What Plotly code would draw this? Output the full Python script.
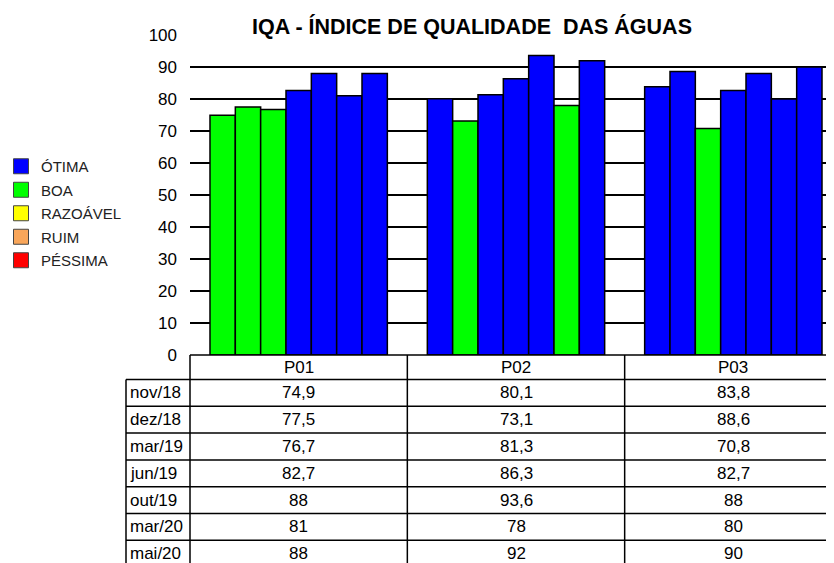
import plotly.graph_objects as go

# ---------------- data ----------------
points = ["P01", "P02", "P03"]
dates = ["nov/18", "dez/18", "mar/19", "jun/19", "out/19", "mar/20", "mai/20"]
values = {
    "nov/18": [74.9, 80.1, 83.8],
    "dez/18": [77.5, 73.1, 88.6],
    "mar/19": [76.7, 81.3, 70.8],
    "jun/19": [82.7, 86.3, 82.7],
    "out/19": [88, 93.6, 88],
    "mar/20": [81, 78, 80],
    "mai/20": [88, 92, 90],
}
classes = ["ÓTIMA", "BOA", "RAZOÁVEL", "RUIM", "PÉSSIMA"]
class_colors = ["#0000FF", "#00FF00", "#FFFF00", "#F9A65A", "#FF0000"]
class_lower = [79, 51, 36, 19, 0]  # lower limit of each class
y_ticks = [0, 10, 20, 30, 40, 50, 60, 70, 80, 90, 100]

TITLE = "IQA - ÍNDICE DE QUALIDADE  DAS ÁGUAS"
FONT = "Liberation Sans, Arial, sans-serif"


def color_for(v):
    for lo, c in zip(class_lower, class_colors):
        if v > lo:
            return c
    return class_colors[-1]


def fmt(v):
    if float(v).is_integer():
        return str(int(v))
    return str(v).replace(".", ",")


fig = go.Figure()

for d in dates:
    fig.add_trace(go.Bar(
        x=points, y=values[d], name=d, showlegend=False,
        marker=dict(color=[color_for(v) for v in values[d]],
                    line=dict(color="black", width=1.5)),
        hoverinfo="x+y+name",
    ))

# legend entries (no data)
for name, c in zip(classes, class_colors):
    fig.add_trace(go.Scatter(
        x=[None], y=[None], name=name, mode="markers", showlegend=True,
        legendgroup=name,
        marker=dict(symbol="square", size=15, color=c,
                    line=dict(color="#444", width=1)),
    ))

# ---------------- layout ----------------
W, H = 834, 563
OFF = 8                      # page offset of the figure in the window
PL, PT, PB = 190, 35, 355    # plot box in window pixels
PW = 652
PH = PB - PT
ML, MT = PL - OFF, PT - OFF
MB = H - (PB - OFF)
MR = W - ML - PW
XR = [-0.5, 2.5]


def sx(px):
    return (px - PL) / PW


def xpaper(xd):
    return (xd - XR[0]) / (XR[1] - XR[0])


def ypix(py):
    return (PB - py) / PH


shapes = []
header_top = PB
header_h = 24.5
row_h = 26.8
label_left = 126
line = dict(color="black", width=1.5)

shapes.append(dict(type="line", xref="paper", yref="paper",
                   x0=0, x1=1.02, y0=ypix(header_top), y1=ypix(header_top), line=line))
for i in range(len(dates) + 1):
    py = header_top + header_h + i * row_h
    shapes.append(dict(type="line", xref="paper", yref="paper",
                       x0=sx(label_left), x1=1.02, y0=ypix(py), y1=ypix(py), line=line))
bottom = ypix(H + 30)
shapes.append(dict(type="line", xref="paper", yref="paper",
                   x0=sx(label_left), x1=sx(label_left),
                   y0=ypix(header_top + header_h), y1=bottom, line=line))
for b in [-0.5, 0.5, 1.5, 2.5]:
    shapes.append(dict(type="line", xref="paper", yref="paper",
                       x0=xpaper(b), x1=xpaper(b), y0=ypix(header_top), y1=bottom, line=line))

annotations = []
for j, p in enumerate(points):
    annotations.append(dict(text=p, xref="x", yref="paper", x=j,
                            y=ypix(header_top + header_h / 2), showarrow=False,
                            font=dict(family=FONT, size=17, color="black"),
                            xanchor="center", yanchor="middle"))
for i, d in enumerate(dates):
    yc = ypix(header_top + header_h + (i + 0.5) * row_h)
    annotations.append(dict(text=d, xref="paper", yref="paper",
                            x=sx(label_left + 2), y=yc, showarrow=False,
                            font=dict(family=FONT, size=17, color="black"),
                            xanchor="left", yanchor="middle"))
    for j, v in enumerate(values[d]):
        annotations.append(dict(text=fmt(v), xref="x", yref="paper", x=j, y=yc,
                                showarrow=False,
                                font=dict(family=FONT, size=17, color="black"),
                                xanchor="center", yanchor="middle"))

annotations.append(dict(text="<b>" + TITLE.replace("  ", "&nbsp;&nbsp;") + "</b>",
                        xref="paper", yref="paper",
                        x=sx(471.5), y=ypix(26), showarrow=False,
                        font=dict(family=FONT, size=21.5, color="black"),
                        xanchor="center", yanchor="middle"))

fig.update_layout(
    width=W, height=H,
    margin=dict(l=ML, r=MR, t=MT, b=MB, pad=0, autoexpand=False),
    paper_bgcolor="white", plot_bgcolor="white",
    barmode="group", bargap=0.184, bargroupgap=0,
    font=dict(family=FONT, size=17, color="black"),
    xaxis=dict(type="category", range=XR, showticklabels=False, showgrid=False,
               zeroline=False, showline=False, ticks="", automargin=False),
    yaxis=dict(range=[0, 100.01], tickvals=y_ticks, showgrid=True, gridcolor="black",
               gridwidth=1.5, zeroline=False, showline=False, ticks="",
               ticklabelstandoff=12, automargin=False,
               tickfont=dict(family=FONT, size=17, color="black")),
    legend=dict(x=sx(1), y=ypix(150), xanchor="left", yanchor="top",
                font=dict(family=FONT, size=15, color="#222"),
                bgcolor="rgba(0,0,0,0)", tracegroupgap=1, traceorder="grouped"),
    shapes=shapes, annotations=annotations,
)

fig.write_html("out.html")
